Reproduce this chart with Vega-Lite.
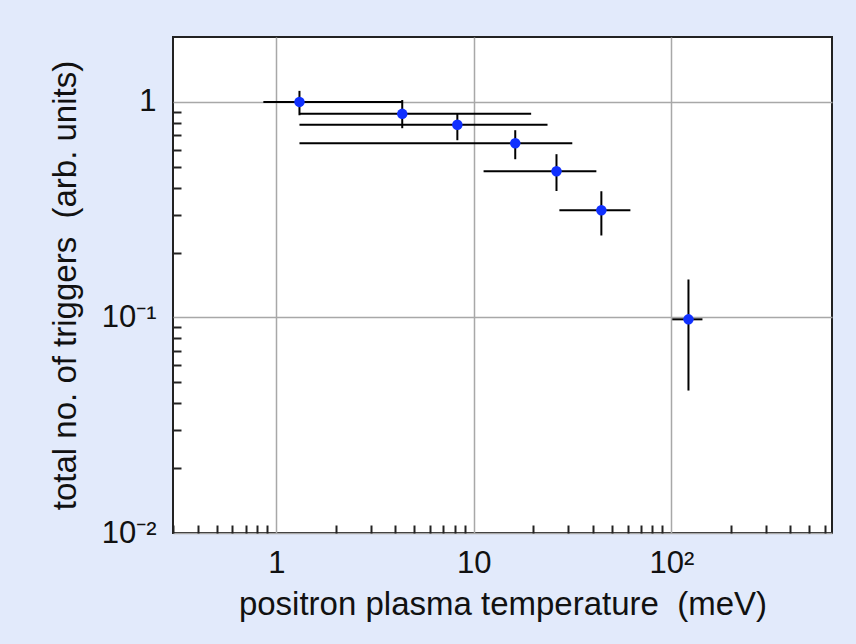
{
  "$schema": "https://vega.github.io/schema/vega-lite/v6.json",
  "autosize": "none",
  "width": 659,
  "height": 496,
  "padding": {"left": 173, "top": 37, "right": 24, "bottom": 111},
  "background": "#E2EAFB",
  "config": {
    "view": {"fill": "white", "stroke": "#222222", "strokeWidth": 2},
    "font": "Liberation Sans",
    "axis": {"domain": false, "labelFont": "Liberation Sans", "titleFont": "Liberation Sans", "labelColor": "#111", "titleColor": "#111", "titleFontWeight": "normal"}
  },
  "data": {"values": [
    {"T": 1.31, "N": 1.0, "Tlo": 0.86, "Thi": 4.34, "Nlo": 0.867, "Nhi": 1.125},
    {"T": 4.34, "N": 0.88, "Tlo": 1.31, "Thi": 19.5, "Nlo": 0.755, "Nhi": 1.02},
    {"T": 8.25, "N": 0.784, "Tlo": 1.31, "Thi": 23.6, "Nlo": 0.664, "Nhi": 0.886},
    {"T": 16.2, "N": 0.643, "Tlo": 1.31, "Thi": 31.5, "Nlo": 0.542, "Nhi": 0.739},
    {"T": 26.2, "N": 0.477, "Tlo": 11.2, "Thi": 41.7, "Nlo": 0.386, "Nhi": 0.572},
    {"T": 44.2, "N": 0.314, "Tlo": 27.1, "Thi": 62, "Nlo": 0.24, "Nhi": 0.385},
    {"T": 122, "N": 0.098, "Tlo": 101, "Thi": 143.6, "Nlo": 0.0458, "Nhi": 0.15}
  ]},
  "layer": [
    {
      "mark": {"type": "rule", "color": "black", "strokeWidth": 2},
      "encoding": {
        "x": {
          "field": "Tlo", "type": "quantitative",
          "scale": {"type": "log", "domain": [0.3, 650], "nice": false},
          "axis": {
            "title": "positron plasma temperature\u00a0 (meV)",
            "titleFontSize": 33,
            "titlePadding": 10,
            "values": [0.3,0.4,0.5,0.6,0.7,0.8,0.9,1,2,3,4,5,6,7,8,9,10,20,30,40,50,60,70,80,90,100,200,300,400,500,600],
            "labelExpr": "datum.value == 1 ? '1' : datum.value == 10 ? '10' : datum.value == 100 ? '10²' : ''",
            "labelFontSize": 31,
            "labelPadding": 23,
            "labelOverlap": false,
            "labelFlush": false,
            "tickSize": -8,
            "tickWidth": 2,
            "tickColor": "#222",
            "tickOpacity": {"condition": {"test": "indexof([1,10,100], datum.value) >= 0", "value": 0}, "value": 1},
            "grid": true,
            "gridColor": "#a8a8a8",
            "gridWidth": 1.5,
            "gridOpacity": {"condition": {"test": "indexof([1,10,100], datum.value) >= 0", "value": 1}, "value": 0}
          }
        },
        "x2": {"field": "Thi"},
        "y": {
          "field": "N", "type": "quantitative",
          "scale": {"type": "log", "domain": [0.01, 2], "nice": false},
          "axis": {
            "title": "total no. of triggers\u00a0 (arb. units)",
            "titleFontSize": 33,
            "titleX": -91,
            "titleBaseline": "bottom",
            "values": [0.01,0.02,0.03,0.04,0.05,0.06,0.07,0.08,0.09,0.1,0.2,0.3,0.4,0.5,0.6,0.7,0.8,0.9,1],
            "labelExpr": "datum.value == 1 ? '1' : datum.value == 0.1 ? '10⁻¹' : datum.value == 0.01 ? '10⁻²' : ''",
            "labelFontSize": 31,
            "labelPadding": 25,
            "labelOverlap": false,
            "labelFlush": false,
            "tickSize": -8,
            "tickWidth": 2,
            "tickColor": "#222",
            "tickOpacity": {"condition": {"test": "indexof([0.01,0.1,1], datum.value) >= 0", "value": 0}, "value": 1},
            "grid": true,
            "gridColor": "#a8a8a8",
            "gridWidth": 1.5,
            "gridOpacity": {"condition": {"test": "indexof([0.01,0.1,1], datum.value) >= 0", "value": 1}, "value": 0}
          }
        }
      }
    },
    {
      "mark": {"type": "rule", "color": "black", "strokeWidth": 2},
      "encoding": {
        "x": {"field": "T", "type": "quantitative"},
        "y": {"field": "Nlo", "type": "quantitative"},
        "y2": {"field": "Nhi"}
      }
    },
    {
      "mark": {"type": "point", "filled": true, "shape": "circle", "size": 110, "color": "#1030ff", "opacity": 1},
      "encoding": {
        "x": {"field": "T", "type": "quantitative"},
        "y": {"field": "N", "type": "quantitative"}
      }
    }
  ]
}
